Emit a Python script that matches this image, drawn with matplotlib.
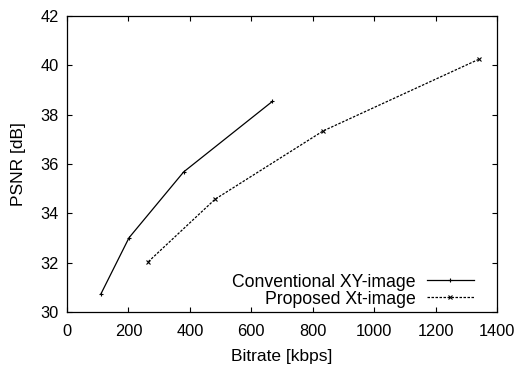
import matplotlib
matplotlib.use("Agg")
import matplotlib.pyplot as plt

# rate-distortion points
conv_rate = [110, 202, 380, 669]
conv_psnr = [30.72, 33.01, 35.68, 38.54]
prop_rate = [265, 482, 834, 1340]
prop_psnr = [32.04, 34.57, 37.34, 40.24]

plt.rcParams["font.family"] = ["Liberation Sans", "DejaVu Sans"]
plt.rcParams["font.size"] = 12

fig = plt.figure(figsize=(5.18, 3.68), dpi=100)
ax = fig.add_axes([0.1293, 0.1522, 0.8301, 0.8043])

ax.plot(conv_rate, conv_psnr, color="black", linewidth=0.9, marker="+",
        markersize=3.5, markeredgewidth=0.8, label="Conventional XY-image")
ax.plot(prop_rate, prop_psnr, color="black", linewidth=0.9, linestyle=(0, (2, 1.2)),
        marker="x", markersize=3, markeredgewidth=0.8, label="Proposed Xt-image")

ax.set_xlim(0, 1400)
ax.set_ylim(30, 42)
ax.set_xticks(range(0, 1401, 200))
ax.set_yticks(range(30, 43, 2))
ax.tick_params(direction="in", top=True, right=True, length=3.5, width=0.8,
               labelsize=11.8)
ax.tick_params(axis="x", pad=9)
ax.tick_params(axis="y", pad=6)
for s in ax.spines.values():
    s.set_linewidth(0.9)

ax.set_xlabel("Bitrate [kbps]", labelpad=7, fontsize=12.5)
ax.set_ylabel("PSNR [dB]", labelpad=10, fontsize=12.5)

ax.legend(loc="lower right", bbox_to_anchor=(0.947, 0.015), frameon=False,
          markerfirst=False, handlelength=2.7, handletextpad=0.6,
          labelspacing=0.0, borderaxespad=0, borderpad=0, fontsize=12.7)

fig.savefig("out.png", dpi=100)
